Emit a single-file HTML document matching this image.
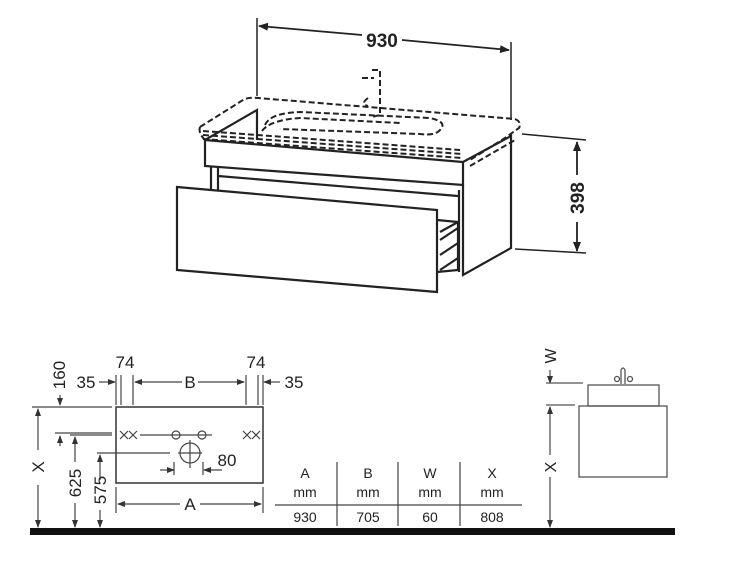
<!DOCTYPE html>
<html><head><meta charset="utf-8"><style>
html,body{margin:0;padding:0;background:#fff}
svg{display:block}
text{font-family:"Liberation Sans",sans-serif;fill:#222}
</style></head><body>
<svg width="750" height="563" viewBox="0 0 750 563" xmlns="http://www.w3.org/2000/svg">
<defs>
<marker id="ar" markerWidth="10" markerHeight="8" refX="9" refY="4" orient="auto" markerUnits="userSpaceOnUse"><path d="M0,0 L10,4 L0,8 z" fill="#222"/></marker>
<marker id="as" markerWidth="8" markerHeight="6" refX="7" refY="3" orient="auto" markerUnits="userSpaceOnUse"><path d="M0,0 L8,3 L0,6 z" fill="#333"/></marker>
</defs>
<!-- TOP DRAWING -->
<g stroke="#222" fill="none">
<line x1="257" y1="18" x2="257" y2="96" stroke-width="1.5"/>
<line x1="511" y1="42" x2="511" y2="120" stroke-width="1.5"/>
<line x1="362" y1="35" x2="259" y2="26" stroke-width="1.8" marker-end="url(#ar)"/>
<line x1="402" y1="40" x2="509" y2="50" stroke-width="1.8" marker-end="url(#ar)"/>
<g stroke-dasharray="6,3" stroke-width="2">
<path d="M200,127 Q198,133 205,140 M200,127 L243,100 Q248,97 258,98 L515,119 Q522,122 519,128 L505,138 L470,160"/>
<path d="M203,131 L460,150 M203,135 L462,154 M203,139 L462,158"/>
<path d="M265,125 Q270,113 300,112 L430,118 Q448,122 440,130 Q435,136 420,134 L280,129"/>
<path d="M262,131 Q270,120 300,118 L400,123"/>
<path d="M470,166 L515,140"/>
<path d="M372,70 L380,70 L380,115 L372,117 M362,78 L374,78 M368,98 Q360,104 368,106"/>
</g>
<g stroke-width="2.2">
<path d="M205,140 L257,110 L257,140"/>
<path d="M205,140 L205,166 L463,185 L463,162 L205,140"/>
<path d="M463,162 L511,136 L511,248 L463,275 L463,185"/>
<path d="M211,166 L211,190 M218,167 L218,190 M218,176 L458,196"/>
<path d="M177,187 L437,210 L437,292 L177,270 Z"/>
<path d="M437,220 L458,222 L458,270 L437,272 M440,240 L458,228 M440,255 L458,243 M440,270 L458,258 M440,232 L458,222"/>
<path d="M459,190 L459,272"/>
</g>
<line x1="522" y1="134" x2="586" y2="140" stroke-width="1.5"/>
<line x1="515" y1="249" x2="586" y2="253" stroke-width="1.5"/>
<line x1="577" y1="175" x2="577" y2="142" stroke-width="1.8" marker-end="url(#ar)"/>
<line x1="577" y1="222" x2="577" y2="251" stroke-width="1.8" marker-end="url(#ar)"/>
</g>
<text x="382" y="47" font-size="19" font-weight="bold" text-anchor="middle">930</text>
<text transform="translate(584,198) rotate(-90)" font-size="19" font-weight="bold" text-anchor="middle">398</text>

<!-- BOTTOM LEFT -->
<rect x="30" y="528" width="645" height="7" fill="#111"/>
<g stroke="#444" fill="none" stroke-width="1.2">
<rect x="116" y="407" width="147" height="76" stroke="#333" stroke-width="1.5"/>
<line x1="32" y1="407" x2="112" y2="407"/>
<line x1="38" y1="450" x2="38" y2="409" marker-end="url(#as)"/>
<line x1="38" y1="485" x2="38" y2="527" marker-end="url(#as)"/>
<line x1="55" y1="433" x2="112" y2="433"/>
<line x1="70" y1="435" x2="112" y2="435"/>
<line x1="60" y1="395" x2="60" y2="405" marker-end="url(#as)"/>
<line x1="60" y1="446" x2="60" y2="436" marker-end="url(#as)"/>
<line x1="75" y1="462" x2="75" y2="437" marker-end="url(#as)"/>
<line x1="75" y1="503" x2="75" y2="527" marker-end="url(#as)"/>
<line x1="97" y1="453" x2="170" y2="453"/>
<line x1="100" y1="480" x2="100" y2="455" marker-end="url(#as)"/>
<line x1="100" y1="510" x2="100" y2="527" marker-end="url(#as)"/>
<line x1="116" y1="375" x2="116" y2="405"/><line x1="121" y1="375" x2="121" y2="405"/><line x1="133" y1="375" x2="133" y2="405"/>
<line x1="246" y1="375" x2="246" y2="405"/><line x1="258" y1="375" x2="258" y2="405"/><line x1="263" y1="375" x2="263" y2="405"/>
<line x1="99" y1="382" x2="115" y2="382" marker-end="url(#as)"/>
<line x1="280" y1="382" x2="264" y2="382" marker-end="url(#as)"/>
<line x1="182" y1="382" x2="135" y2="382" marker-end="url(#as)"/>
<line x1="198" y1="382" x2="244" y2="382" marker-end="url(#as)"/>
<line x1="140" y1="435" x2="212" y2="435"/>
<path d="M120,431 L128,439 M128,431 L120,439 M129,431 L137,439 M137,431 L129,439"/>
<path d="M243,431 L251,439 M251,431 L243,439 M252,431 L260,439 M260,431 L252,439"/>
<circle cx="176" cy="435" r="4"/><circle cx="202" cy="435" r="4"/>
<circle cx="190" cy="453" r="10"/>
<line x1="190" y1="440" x2="190" y2="468"/><line x1="178" y1="453" x2="202" y2="453"/>
<line x1="116" y1="487" x2="116" y2="513"/><line x1="263" y1="487" x2="263" y2="513"/>
<line x1="180" y1="504" x2="118" y2="504" marker-end="url(#as)"/>
<line x1="200" y1="504" x2="261" y2="504" marker-end="url(#as)"/>
<line x1="160" y1="470" x2="174" y2="470" marker-end="url(#as)"/>
<line x1="222" y1="470" x2="204" y2="470" marker-end="url(#as)"/>
<line x1="174" y1="462" x2="174" y2="475"/><line x1="203" y1="462" x2="203" y2="475"/>
<line x1="275" y1="505" x2="522" y2="505"/>
<line x1="337" y1="462" x2="337" y2="526"/><line x1="398" y1="462" x2="398" y2="526"/><line x1="460" y1="462" x2="460" y2="526"/>
</g>
<g font-size="17" fill="#333" text-anchor="middle">
<text x="125" y="368">74</text>
<text x="256" y="368">74</text>
<text x="86" y="388">35</text>
<text x="294" y="388">35</text>
<text x="190" y="388">B</text>
<text x="227" y="466">80</text>
<text x="190" y="510">A</text>
<text transform="translate(65,375) rotate(-90)">160</text>
<text transform="translate(44,467) rotate(-90)">X</text>
<text transform="translate(81,483) rotate(-90)">625</text>
<text transform="translate(106,490) rotate(-90)">575</text>
</g>
<g font-size="14" fill="#333" text-anchor="middle">
<text x="305" y="478">A</text><text x="368" y="478">B</text><text x="430" y="478">W</text><text x="492" y="478">X</text>
<text x="305" y="497">mm</text><text x="368" y="497">mm</text><text x="430" y="497">mm</text><text x="492" y="497">mm</text>
<text x="305" y="522">930</text><text x="368" y="522">705</text><text x="430" y="522">60</text><text x="492" y="522">808</text>
</g>
<g stroke="#555" fill="none" stroke-width="1.3">
<line x1="550" y1="370" x2="550" y2="383" marker-end="url(#as)"/>
<line x1="546" y1="383" x2="583" y2="383"/>
<line x1="546" y1="405" x2="575" y2="405"/>
<line x1="550" y1="455" x2="550" y2="407" marker-end="url(#as)"/>
<line x1="550" y1="477" x2="550" y2="527" marker-end="url(#as)"/>
<rect x="588" y="385" width="71" height="21"/>
<rect x="579" y="406" width="88" height="71"/>
<path d="M621,384 L621,370 Q623,366 625,370 L625,384"/>
<circle cx="617" cy="379" r="2.5"/><circle cx="630" cy="379" r="2.5"/>
</g>
<g font-size="16" fill="#333" text-anchor="middle">
<text transform="translate(556,356) rotate(-90)">W</text>
<text transform="translate(556,467) rotate(-90)">X</text>
</g>
</svg>
</body></html>
